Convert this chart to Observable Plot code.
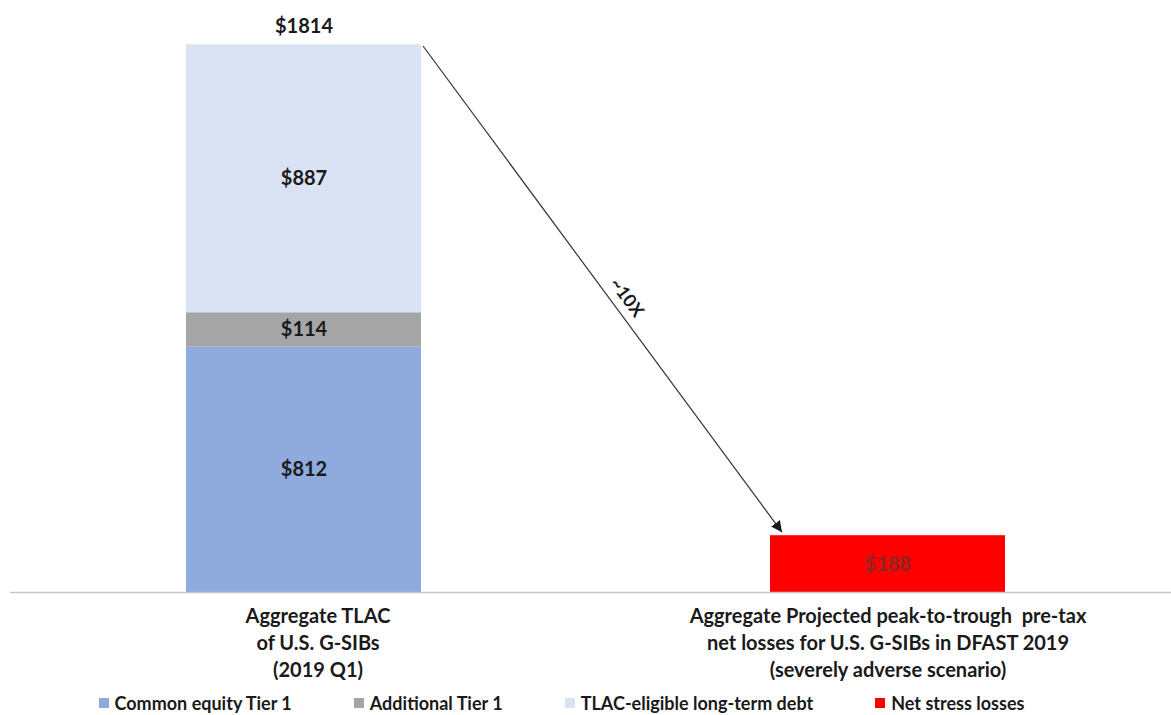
<!DOCTYPE html>
<html>
<head>
<meta charset="utf-8">
<script src="https://cdn.jsdelivr.net/npm/d3@7"></script>
<script src="https://cdn.jsdelivr.net/npm/@observablehq/plot@0.6"></script>
<style>
  html, body { margin: 0; padding: 0; background: #fff; }
  body { width: 1171px; height: 715px; overflow: hidden; font-family: Lato, "Open Sans", sans-serif; }
  #legend { display: flex; justify-content: center; gap: 62px; height: 25px; align-items: center;
    font-weight: 700; font-size: 18px; color: #1a1a1a; padding-right: 48px; }
  #legend .item { display: flex; align-items: center; gap: 6px; }
  #legend .sw { width: 10px; height: 10px; display: inline-block; }
</style>
</head>
<body>
<div id="chart"></div>
<div id="legend"></div>
<script>
// ---- data ----
const categories = ["TLAC", "Losses"];
const categoryLabels = [
  "Aggregate TLAC\nof U.S. G-SIBs\n(2019 Q1)",
  "Aggregate Projected peak-to-trough  pre-tax\nnet losses for U.S. G-SIBs in DFAST 2019\n(severely adverse scenario)"
];
const components = ["Common equity Tier 1", "Additional Tier 1", "TLAC-eligible long-term debt", "Net stress losses"];
const componentColors = ["#8faadc", "#a5a5a5", "#dae3f3", "#ff0000"];
const tlacComponents = ["Common equity Tier 1", "Additional Tier 1", "TLAC-eligible long-term debt"];
const tlacValues = [812, 114, 887];
const lossComponent = "Net stress losses";
const lossValue = 188;
const tlacTotal = 1814;
const multipleLabel = "~10X";

// ---- table built from the arrays ----
const rows = [
  ...tlacComponents.map((c, i) => ({cat: categories[0], comp: c, value: tlacValues[i]})),
  {cat: categories[1], comp: lossComponent, value: lossValue}
];
const totals = [{cat: categories[0], value: tlacTotal}];
const axisRows = categories.map((c, i) => ({cat: c, label: categoryLabels[i]}));

const W = 1171, H = 690;
const labelStyle = {fontWeight: 700, fontSize: 20, fill: "#1a1a1a"};
const chart = Plot.plot({
  width: W,
  height: H,
  marginTop: 44,
  marginBottom: 98,
  marginLeft: 20,
  marginRight: 0,
  style: {fontFamily: "Lato, 'Open Sans', sans-serif", background: "#fff"},
  x: {domain: categories, paddingInner: 0.598, paddingOuter: 0.2837, axis: null},
  y: {domain: [0, tlacTotal], axis: null},
  color: {domain: components, range: componentColors},
  marks: [
    Plot.barY(rows, {x: "cat", y: "value", fill: "comp", order: null}),
    Plot.ruleY([0], {stroke: "#c6c6c6", strokeWidth: 1.5, insetLeft: -10}),
    Plot.text(rows, Plot.stackY({
      x: "cat", y: "value", order: null,
      text: d => "$" + d.value,
      ...labelStyle,
      fill: d => d.comp === lossComponent ? "#8c2626" : "#1a1a1a"
    })),
    Plot.text(totals, {x: "cat", y: "value", text: d => "$" + d.value, dy: -18, ...labelStyle}),
    Plot.text(axisRows.slice(0, 1), {x: "cat", y: () => 0, text: "label", lineAnchor: "top", dy: 12, dx: 14,
      lineHeight: 1.33, ...labelStyle}),
    Plot.text(axisRows.slice(1), {x: "cat", y: () => 0, text: "label", lineAnchor: "top", dy: 12, dx: 0,
      lineHeight: 1.33, ...labelStyle})
  ]
});
document.getElementById("chart").appendChild(chart);

// ---- arrow from top-right of the TLAC bar to top-left of the loss bar, via Plot's scales ----
const xs = chart.scale("x"), ys = chart.scale("y");
const bw = xs.bandwidth;
const x1 = xs.apply(categories[0]) + bw + 2;
const y1 = ys.apply(tlacTotal) + 2;
const x2 = xs.apply(categories[1]) + 12;
const y2 = ys.apply(lossValue) - 3;
const svg = d3.select(chart);
const defs = svg.append("defs");
defs.append("marker").attr("id", "ah").attr("viewBox", "0 0 10 10")
  .attr("refX", 10).attr("refY", 5).attr("markerWidth", 11).attr("markerHeight", 11)
  .attr("markerUnits", "userSpaceOnUse").attr("orient", "auto")
  .append("path").attr("d", "M0,0 L10,5 L0,10 z").attr("fill", "#1a1a1a");
svg.append("line").attr("x1", x1).attr("y1", y1).attr("x2", x2).attr("y2", y2)
  .attr("stroke", "#333").attr("stroke-width", 1.2).attr("marker-end", "url(#ah)");
const ang = Math.atan2(y2 - y1, x2 - x1);
const t = 0.535;
const mx = x1 + (x2 - x1) * t, my = y1 + (y2 - y1) * t;
const off = 15;
svg.append("text")
  .attr("transform", `translate(${mx + Math.sin(ang) * off},${my - Math.cos(ang) * off}) rotate(${ang * 180 / Math.PI})`)
  .attr("text-anchor", "middle").attr("dy", "0.35em")
  .attr("font-weight", 700).attr("font-size", 18).attr("fill", "#1a1a1a")
  .text(multipleLabel);

// ---- legend ----
const legend = document.getElementById("legend");
components.forEach((c, i) => {
  const item = document.createElement("span");
  item.className = "item";
  const sw = document.createElement("span");
  sw.className = "sw";
  sw.style.background = componentColors[i];
  const lab = document.createElement("span");
  lab.textContent = c;
  item.appendChild(sw); item.appendChild(lab);
  legend.appendChild(item);
});
</script>
</body>
</html>
